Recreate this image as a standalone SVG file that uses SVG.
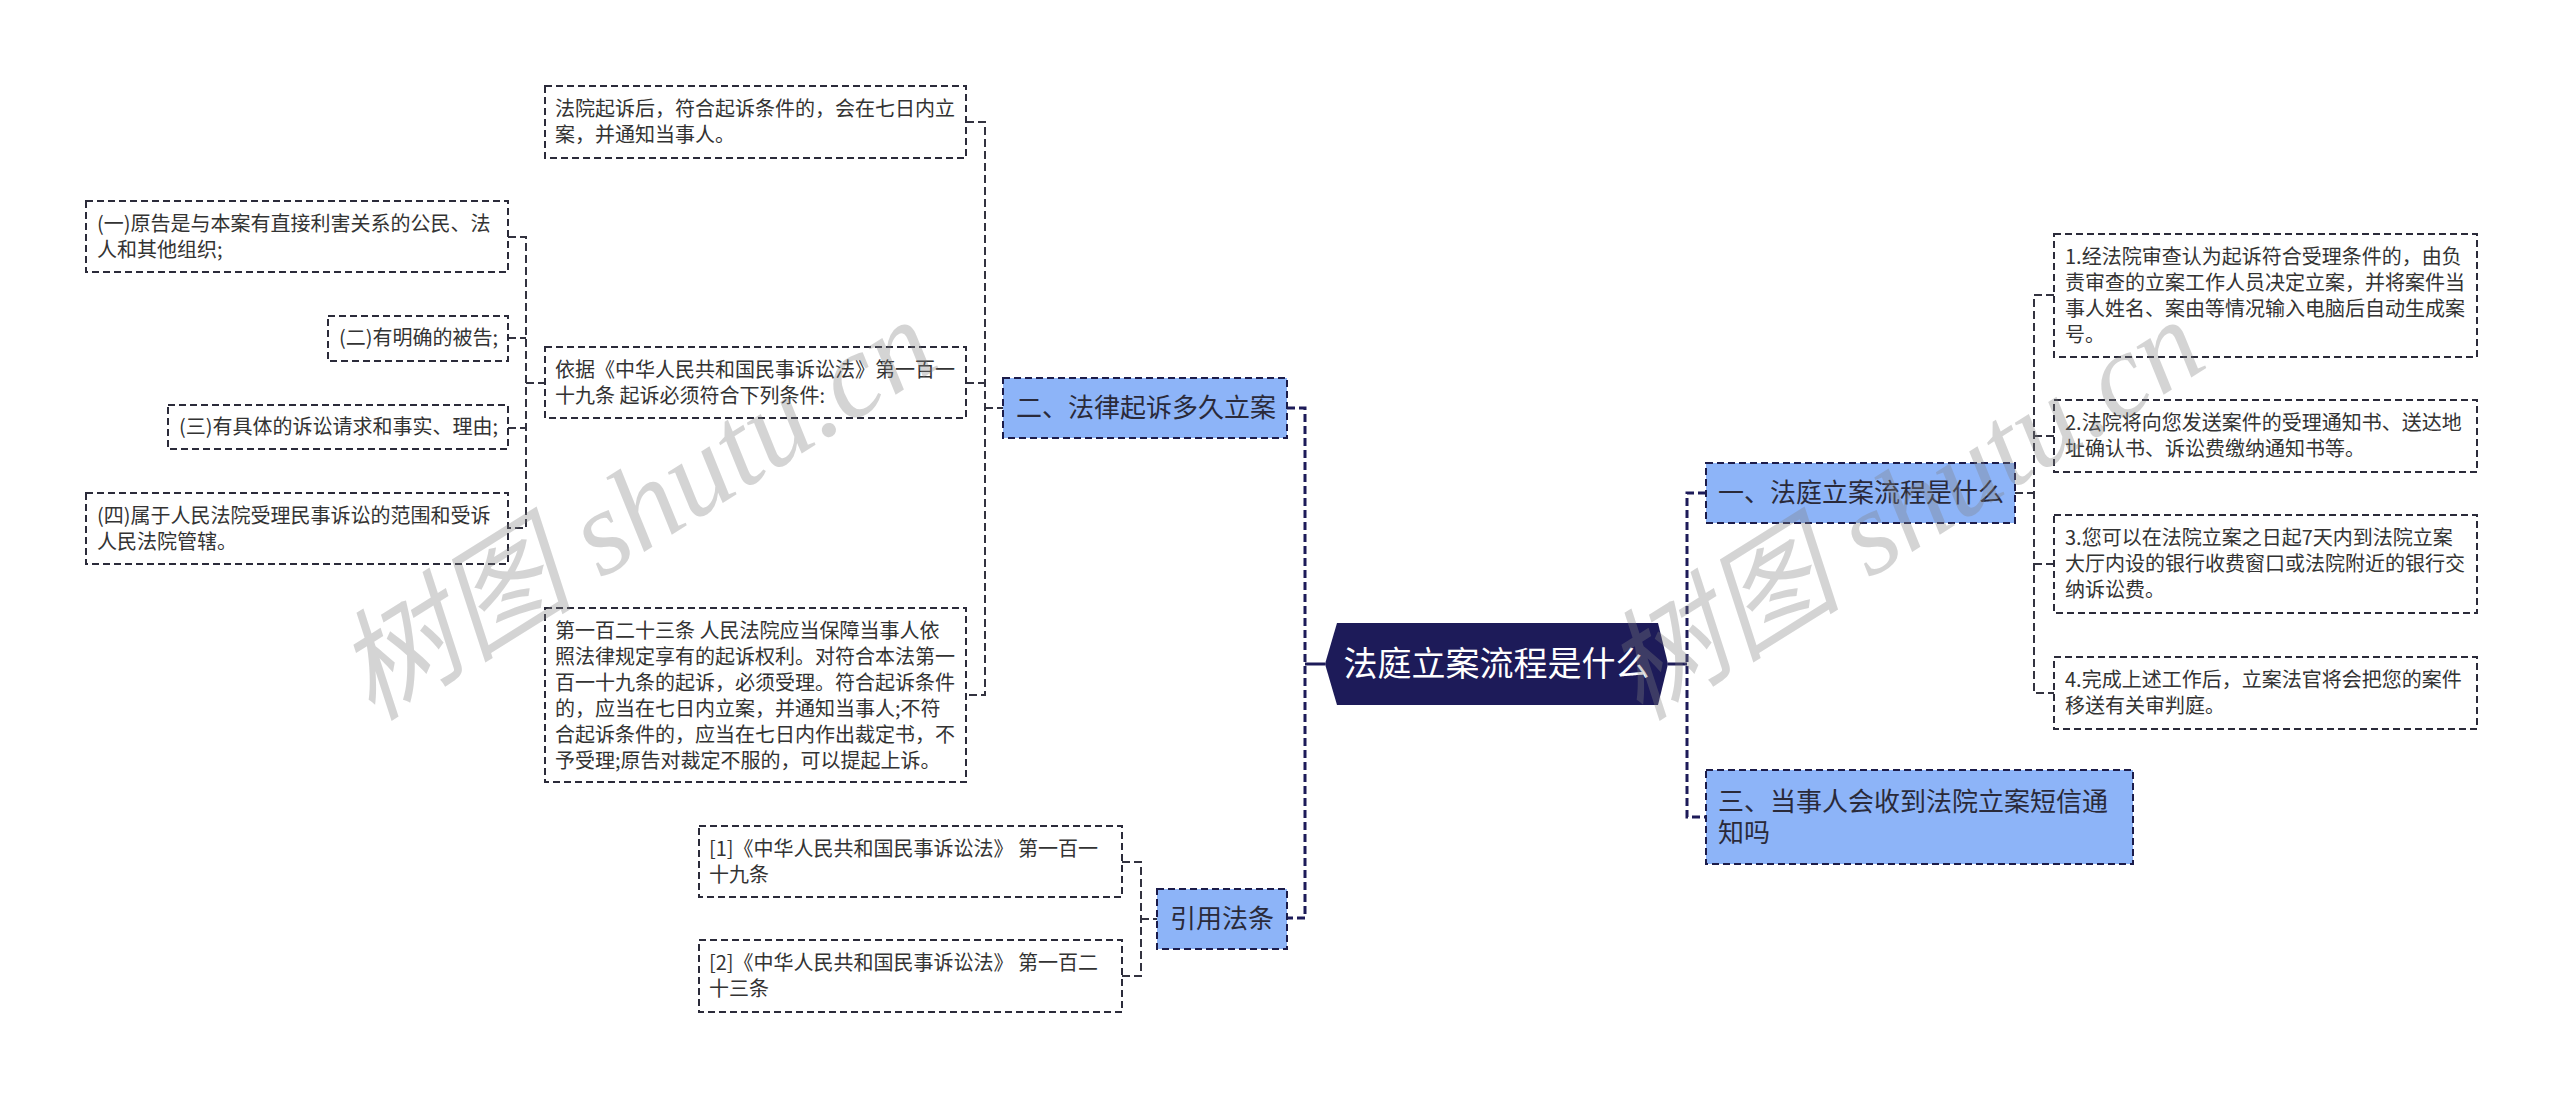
<svg xmlns="http://www.w3.org/2000/svg" width="2560" height="1098" viewBox="0 0 2560 1098">
<style>
text{font-family:"Noto Sans CJK SC","Noto Sans",sans-serif;}
.leaf{fill:#ffffff;stroke:#2b2b3a;stroke-width:2;stroke-dasharray:7 4;}
.branch{fill:#8db4f8;stroke:#1c1c4a;stroke-width:2;stroke-dasharray:7 4;}
.root{fill:#1d1b59;}
.lt{font-size:20px;fill:#333333;}
.bt{font-size:26px;fill:#2a2a3a;}
.rt{font-size:34px;fill:#ffffff;}
.main{fill:none;stroke:#1d1b59;stroke-width:3;stroke-dasharray:8 4;}
.mainsolid{fill:none;stroke:#1d1b59;stroke-width:3;}
.sub{fill:none;stroke:#333340;stroke-width:2;stroke-dasharray:8 4;}
.wm{font-family:"Liberation Serif","Noto Sans CJK SC",serif;font-style:italic;font-size:120px;fill:#808080;opacity:0.33;}
</style>
<rect width="2560" height="1098" fill="#ffffff"/>
<g id="connectors">
<path class="mainsolid" d="M1325,664 H1305"/>
<path class="main" d="M1287,408 H1305 V918 H1287"/>
<path class="mainsolid" d="M1668,664 H1687"/>
<path class="main" d="M1706,493 H1687 V817 H1706"/>
<path class="sub" d="M966,122 H985 V695 H966"/>
<path class="sub" d="M966,383 H985"/>
<path class="sub" d="M985,408 H1003"/>
<path class="sub" d="M508,237 H526 V528 H508"/>
<path class="sub" d="M508,338 H526"/>
<path class="sub" d="M508,428 H526"/>
<path class="sub" d="M526,383 H545"/>
<path class="sub" d="M1122,862 H1141 V976 H1122"/>
<path class="sub" d="M1141,919 H1157"/>
<path class="sub" d="M2015,493 H2034"/>
<path class="sub" d="M2054,295 H2034 V693 H2054"/>
<path class="sub" d="M2034,436 H2054"/>
<path class="sub" d="M2034,564 H2054"/>
</g>
<g id="root">
<polygon class="root" points="1325,664 1337,623 1658,623 1668,664 1658,705 1337,705"/>
<text class="rt" x="1496.5" y="676" text-anchor="middle">法庭立案流程是什么</text>
</g>
<g id="branch2">
<rect class="branch" x="1003" y="378" width="284" height="60"/>
<text class="bt" x="1016" y="417">二、法律起诉多久立案</text>
</g>
<g id="branchCite">
<rect class="branch" x="1157" y="889" width="130" height="60"/>
<text class="bt" x="1170" y="928">引用法条</text>
</g>
<g id="branch1">
<rect class="branch" x="1706" y="463" width="309" height="60"/>
<text class="bt" x="1718" y="502">一、法庭立案流程是什么</text>
</g>
<g id="branch3">
<rect class="branch" x="1706" y="770" width="427" height="94"/>
<text class="bt" x="1718" y="811">三、当事人会收到法院立案短信通</text>
<text class="bt" x="1718" y="842">知吗</text>
</g>
<g id="leafCourt">
<rect class="leaf" x="545" y="86" width="421" height="72"/>
<text class="lt" x="555" y="116"><tspan x="555">法院起诉后，符合起诉条件的，会在七日内立</tspan><tspan x="555" dy="26">案，并通知当事人。</tspan></text>
</g>
<g id="leafBasis">
<rect class="leaf" x="545" y="347" width="421" height="71"/>
<text class="lt" x="555" y="377"><tspan x="555">依据《中华人民共和国民事诉讼法》第一百一</tspan><tspan x="555" dy="26">十九条 起诉必须符合下列条件:</tspan></text>
</g>
<g id="leafArt123">
<rect class="leaf" x="545" y="608" width="421" height="174"/>
<text class="lt" x="555" y="638"><tspan x="555">第一百二十三条 人民法院应当保障当事人依</tspan><tspan x="555" dy="26">照法律规定享有的起诉权利。对符合本法第一</tspan><tspan x="555" dy="26">百一十九条的起诉，必须受理。符合起诉条件</tspan><tspan x="555" dy="26">的，应当在七日内立案，并通知当事人;不符</tspan><tspan x="555" dy="26">合起诉条件的，应当在七日内作出裁定书，不</tspan><tspan x="555" dy="26">予受理;原告对裁定不服的，可以提起上诉。</tspan></text>
</g>
<g id="leafCond1">
<rect class="leaf" x="86" y="201" width="422" height="71"/>
<text class="lt" x="97" y="231"><tspan x="97">(一)原告是与本案有直接利害关系的公民、法</tspan><tspan x="97" dy="26">人和其他组织;</tspan></text>
</g>
<g id="leafCond2">
<rect class="leaf" x="328" y="316" width="180" height="45"/>
<text class="lt" x="339" y="345">(二)有明确的被告;</text>
</g>
<g id="leafCond3">
<rect class="leaf" x="168" y="405" width="340" height="44"/>
<text class="lt" x="179" y="434">(三)有具体的诉讼请求和事实、理由;</text>
</g>
<g id="leafCond4">
<rect class="leaf" x="86" y="493" width="422" height="71"/>
<text class="lt" x="97" y="523"><tspan x="97">(四)属于人民法院受理民事诉讼的范围和受诉</tspan><tspan x="97" dy="26">人民法院管辖。</tspan></text>
</g>
<g id="leafCite1">
<rect class="leaf" x="699" y="826" width="423" height="71"/>
<text class="lt" x="709" y="856"><tspan x="709">[1]《中华人民共和国民事诉讼法》 第一百一</tspan><tspan x="709" dy="26">十九条</tspan></text>
</g>
<g id="leafCite2">
<rect class="leaf" x="699" y="940" width="423" height="72"/>
<text class="lt" x="709" y="970"><tspan x="709">[2]《中华人民共和国民事诉讼法》 第一百二</tspan><tspan x="709" dy="26">十三条</tspan></text>
</g>
<g id="leafStep1">
<rect class="leaf" x="2054" y="234" width="423" height="123"/>
<text class="lt" x="2065" y="264"><tspan x="2065">1.经法院审查认为起诉符合受理条件的，由负</tspan><tspan x="2065" dy="26">责审查的立案工作人员决定立案，并将案件当</tspan><tspan x="2065" dy="26">事人姓名、案由等情况输入电脑后自动生成案</tspan><tspan x="2065" dy="26">号。</tspan></text>
</g>
<g id="leafStep2">
<rect class="leaf" x="2054" y="400" width="423" height="72"/>
<text class="lt" x="2065" y="430"><tspan x="2065">2.法院将向您发送案件的受理通知书、送达地</tspan><tspan x="2065" dy="26">址确认书、诉讼费缴纳通知书等。</tspan></text>
</g>
<g id="leafStep3">
<rect class="leaf" x="2054" y="515" width="423" height="98"/>
<text class="lt" x="2065" y="545"><tspan x="2065">3.您可以在法院立案之日起7天内到法院立案</tspan><tspan x="2065" dy="26">大厅内设的银行收费窗口或法院附近的银行交</tspan><tspan x="2065" dy="26">纳诉讼费。</tspan></text>
</g>
<g id="leafStep4">
<rect class="leaf" x="2054" y="657" width="423" height="72"/>
<text class="lt" x="2065" y="687"><tspan x="2065">4.完成上述工作后，立案法官将会把您的案件</tspan><tspan x="2065" dy="26">移送有关审判庭。</tspan></text>
</g>
<g id="watermarks">
<text class="wm" transform="translate(372,722) rotate(-32)">树图 shutu.cn</text>
<text class="wm" transform="translate(1640,722) rotate(-32)">树图 shutu.cn</text>
</g>
</svg>
